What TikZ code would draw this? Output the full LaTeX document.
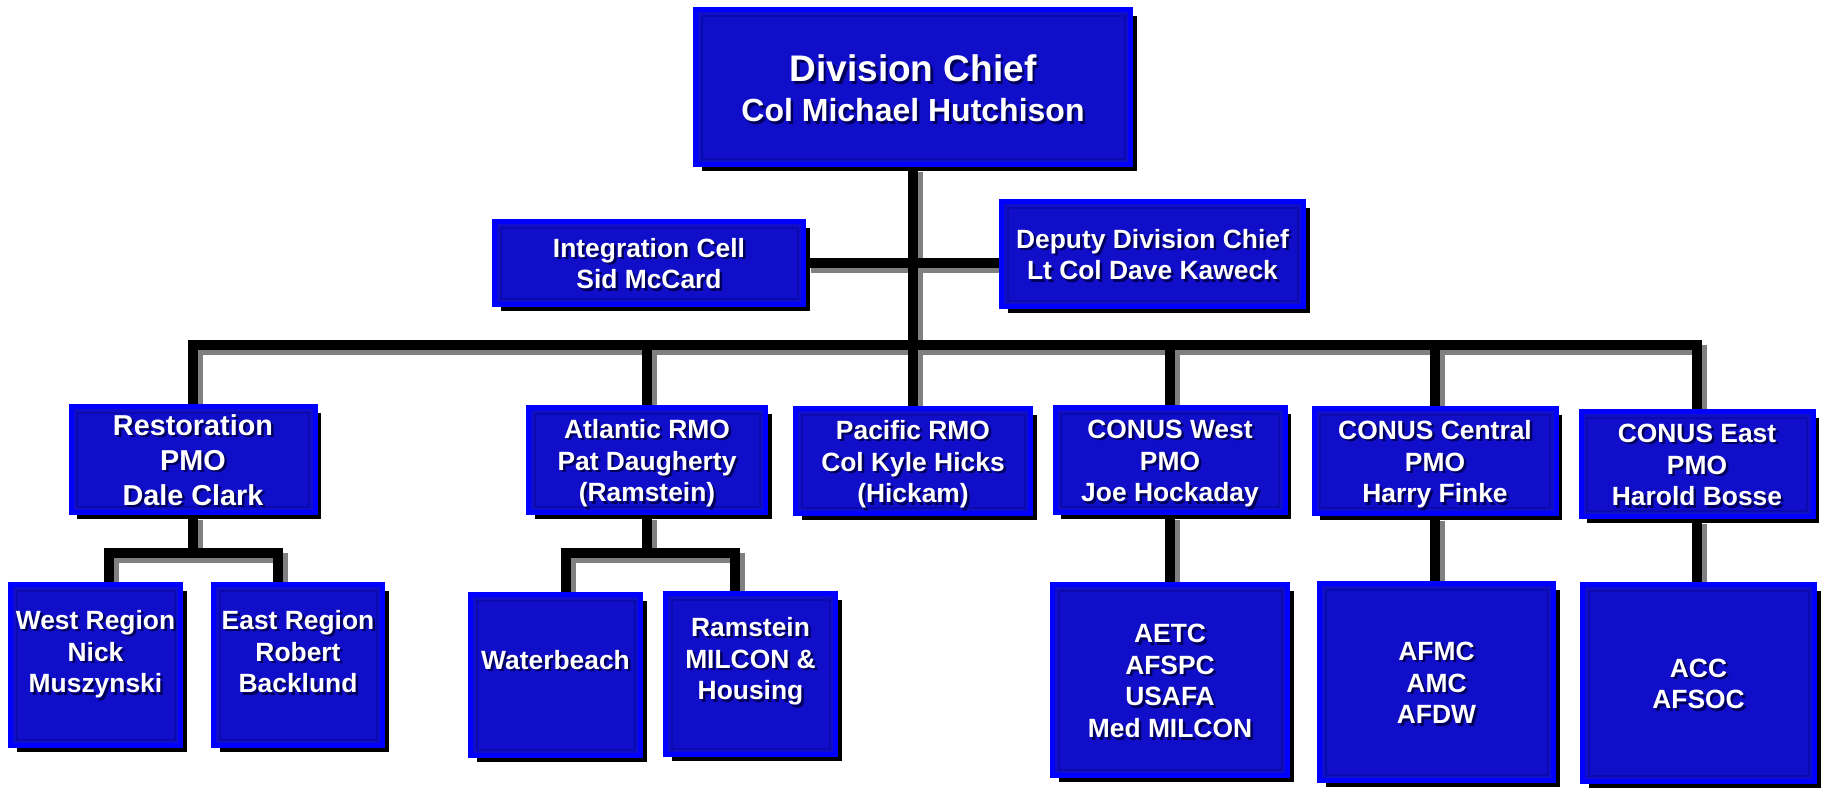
\documentclass[tikz,border=0pt]{standalone}
\usepackage{fontspec}
\setmainfont{Liberation Sans}
\usepackage{xcolor}
\usetikzlibrary{shadows,positioning,calc}

\definecolor{boxfill}{RGB}{16,14,200}
\definecolor{boxedge}{RGB}{0,0,255}
\definecolor{boxinner}{RGB}{10,10,175}
\definecolor{txtshade}{RGB}{0,0,90}
\definecolor{lineshade}{RGB}{128,128,128}

\pgfdeclarelayer{background}
\pgfsetlayers{background,main}

\tikzset{
    orgbox/.style={draw=boxedge, line width=5pt, fill=boxfill, text=white, inner sep=0pt,
        font=\bfseries\fontsize{26.4}{31.7}\selectfont,
        drop shadow={shadow xshift=6pt, shadow yshift=-6pt, fill=black, opacity=1},
        path picture={\draw[boxinner, line width=2pt]
            ([shift={(6pt,-6pt)}]path picture bounding box.north west) rectangle
            ([shift={(-6pt,6pt)}]path picture bounding box.south east);}},
    link/.style={draw=black, line width=10pt},
    linkshade/.style={draw=lineshade, line width=10pt, transform canvas={shift={(5pt,-5pt)}}}
}

% white text with a dark shadow behind it
\newcommand{\orgtext}[1]{\raisebox{0pt}[\height][\dimexpr\depth-10pt\relax]{%
    \rlap{\kern2.5pt\raisebox{-2.5pt}{\color{txtshade}\begin{tabular}{@{}c@{}}#1\end{tabular}}}%
    \begin{tabular}{@{}c@{}}#1\end{tabular}}}

\begin{document}
\begin{tikzpicture}[x=1pt, y=-1pt]

    \useasboundingbox (0,0) rectangle (1825,787);

    \node [orgbox, minimum width=435pt, minimum height=155pt, font=\bfseries\fontsize{32}{40}\selectfont] (chief) at (913,87)
        {\orgtext{{\fontsize{37}{40}\selectfont Division Chief}\\Col Michael Hutchison\\[-6pt]}};
    \node [orgbox, minimum width=309pt, minimum height=83pt] (integ) at (649,263) {\orgtext{Integration Cell\\Sid McCard}};
    \node [orgbox, minimum width=302pt, minimum height=105pt] (deputy) at (1152.5,254) {\orgtext{Deputy Division Chief\\Lt Col Dave Kaweck}};

    % second row
    \node [orgbox, minimum width=244pt, minimum height=106pt, font=\bfseries\fontsize{28.8}{35}\selectfont] (restor) at (193,459.5)
        {\orgtext{Restoration\\PMO\\Dale Clark}};
    \node [orgbox, minimum width=237pt, minimum height=105pt] (atlantic) at (647,460) {\orgtext{Atlantic RMO\\Pat Daugherty\\(Ramstein)}};
    \node [orgbox, minimum width=235pt, minimum height=105pt] (pacific) at (913,461) {\orgtext{Pacific RMO\\Col Kyle Hicks\\(Hickam)}};
    \node [orgbox, minimum width=230pt, minimum height=105pt] (cwest) at (1170,460) {\orgtext{CONUS West\\PMO\\Joe Hockaday}};
    \node [orgbox, minimum width=242pt, minimum height=105pt] (ccentral) at (1435,461) {\orgtext{CONUS Central\\PMO\\Harry Finke}};
    \node [orgbox, minimum width=232pt, minimum height=105pt] (ceast) at (1697,464) {\orgtext{CONUS East\\PMO\\Harold Bosse}};

    % third row
    \node [orgbox, minimum width=170pt, minimum height=161pt] (westreg) at (95.5,665) {\orgtext{West Region\\Nick\\Muszynski\\[28pt]}};
    \node [orgbox, minimum width=169pt, minimum height=161pt] (eastreg) at (298,665) {\orgtext{East Region\\Robert\\Backlund\\[28pt]}};
    \node [orgbox, minimum width=170pt, minimum height=161pt] (waterb) at (555.5,675) {\orgtext{Waterbeach\\[32pt]}};
    \node [orgbox, minimum width=170pt, minimum height=161pt] (ramst) at (750.5,674) {\orgtext{Ramstein\\MILCON \&\\Housing\\[32pt]}};
    \node [orgbox, minimum width=235pt, minimum height=191pt] (aetc) at (1170,680) {\orgtext{AETC\\AFSPC\\USAFA\\Med MILCON}};
    \node [orgbox, minimum width=234pt, minimum height=197pt] (afmc) at (1436.5,682) {\orgtext{AFMC\\AMC\\AFDW}};
    \node [orgbox, minimum width=232pt, minimum height=197pt] (acc) at (1698.5,683) {\orgtext{ACC\\AFSOC}};

    \coordinate (bar) at (913,345);
    \coordinate (rsub) at (193,553);
    \coordinate (asub) at (647,553);

    % connectors: grey shadows first, then the black lines
    \begin{pgfonlayer}{background}
    \foreach \s in {linkshade,link} {
        \draw [\s] (chief) -- (pacific);
        \draw [\s] (integ) -- (integ -| deputy.west);
        \draw [\s] (restor) |- (bar) -| (ceast);
        \draw [\s] (atlantic) -- (atlantic |- bar);
        \draw [\s] (cwest) -- (cwest |- bar);
        \draw [\s] (ccentral) -- (ccentral |- bar);
        \draw [\s] (restor) -- (restor |- rsub);
        \draw [\s] ([xshift=13pt]westreg.north) |- (rsub) -| ([xshift=-20pt]eastreg.north);
        \draw [\s] (atlantic) -- (atlantic |- asub);
        \draw [\s] ([xshift=10.5pt]waterb.north) |- (asub) -| ([xshift=-15.5pt]ramst.north);
        \draw [\s] (cwest) -- (aetc);
        \draw [\s] (ccentral) -- (ccentral |- afmc.north);
        \draw [\s] (ceast) -- (ceast |- acc.north);
    }
    \end{pgfonlayer}
\end{tikzpicture}
\end{document}
